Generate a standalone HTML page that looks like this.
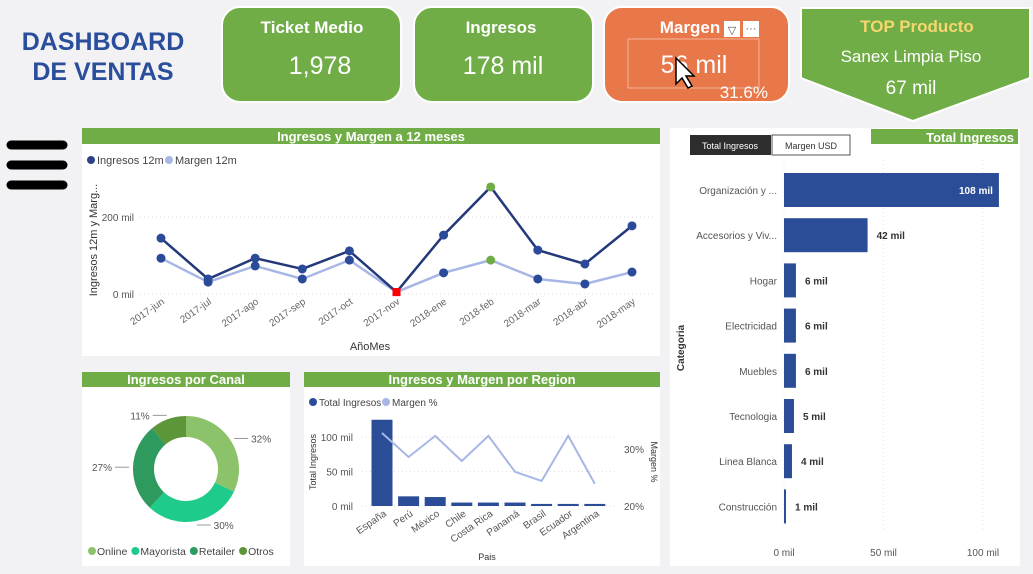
<!DOCTYPE html>
<html><head><meta charset="utf-8"><style>
body{margin:0;width:1033px;height:574px;overflow:hidden;background:#f2f2f4;font-family:"Liberation Sans",sans-serif}
svg{display:block}
text{font-family:"Liberation Sans",sans-serif}
</style></head><body>
<svg id="s" width="1033" height="574" viewBox="0 0 1033 574">
<rect width="1033" height="574" fill="#f2f2f4"/>
<g fill="#2a4e9b" font-weight="bold" font-size="25" text-anchor="middle">
<text x="103" y="50">DASHBOARD</text><text x="103" y="80">DE VENTAS</text></g>
<g stroke="#000" stroke-width="9" stroke-linecap="round">
<line x1="11" y1="145" x2="63" y2="145"/><line x1="11" y1="165" x2="63" y2="165"/><line x1="11" y1="185" x2="63" y2="185"/></g>
<g>
<rect x="222" y="7" width="179" height="95" rx="18" fill="#70ad47" stroke="#fff" stroke-width="2"/>
<text x="312" y="33" fill="#fff" font-size="17" font-weight="bold" text-anchor="middle">Ticket Medio</text>
<text x="320" y="74" fill="#fff" font-size="25" text-anchor="middle">1,978</text></g>
<g>
<rect x="414" y="7" width="179" height="95" rx="18" fill="#70ad47" stroke="#fff" stroke-width="2"/>
<text x="501" y="33" fill="#fff" font-size="17" font-weight="bold" text-anchor="middle">Ingresos</text>
<text x="503" y="74" fill="#fff" font-size="25" text-anchor="middle">178 mil</text></g>
<g>
<rect x="604" y="7" width="185" height="95" rx="18" fill="#e8774a" stroke="#fff" stroke-width="2"/>
<text x="690" y="33" fill="#fff" font-size="17" font-weight="bold" text-anchor="middle">Margen</text>
<rect x="724" y="21" width="16" height="16" fill="#fff"/>
<text x="732" y="34" font-size="11" text-anchor="middle" fill="#555">▽</text>
<rect x="743" y="21" width="16" height="16" fill="#fff"/>
<text x="751" y="32" font-size="11" text-anchor="middle" fill="#555">···</text>
<rect x="628" y="39" width="131" height="49" fill="none" stroke="#f4b39a" stroke-width="1"/>
<text x="694" y="73" fill="#fff" font-size="25" text-anchor="middle">56 mil</text>
<text x="768" y="98" fill="#fff" font-size="17" text-anchor="end">31.6%</text>
<path d="M676 58 L676 84 L682 78 L688 88 L692 86 L686 76 L694 76 Z" fill="#fff" stroke="#000" stroke-width="1.5"/></g>
<g>
<path d="M801 8 H1030 V78 L913 121 L801 78 Z" fill="#70ad47" stroke="#fff" stroke-width="2"/>
<text x="917" y="32" fill="#f5d76e" font-size="17" font-weight="bold" text-anchor="middle">TOP Producto</text>
<text x="911" y="62" fill="#fff" font-size="17" text-anchor="middle">Sanex Limpia Piso</text>
<text x="911" y="94" fill="#fff" font-size="19" text-anchor="middle">67 mil</text></g>

<g>
<rect x="82" y="128" width="578" height="228" fill="#fff"/>
<rect x="82" y="128" width="578" height="16" fill="#70ad47"/>
<text x="371" y="141" fill="#fff" font-size="13" font-weight="bold" text-anchor="middle">Ingresos y Margen a 12 meses</text>
<circle cx="91" cy="160" r="4" fill="#2b4286"/><text x="97" y="164" font-size="11" fill="#444">Ingresos 12m</text>
<circle cx="169" cy="160" r="4" fill="#a8b6e6"/><text x="175" y="164" font-size="11" fill="#444">Margen 12m</text>
<text transform="translate(97,240) rotate(-90)" font-size="11" fill="#333" text-anchor="middle">Ingresos 12m y Marg...</text>
<text x="370" y="350" font-size="11" fill="#333" text-anchor="middle">AñoMes</text>
<g id="lc"></g></g>

<g>
<rect x="82" y="372" width="208" height="194" fill="#fff"/>
<rect x="82" y="372" width="208" height="15" fill="#70ad47"/>
<text x="186" y="384" fill="#fff" font-size="13" font-weight="bold" text-anchor="middle">Ingresos por Canal</text>
<g id="dc"></g></g>

<g>
<rect x="304" y="372" width="356" height="194" fill="#fff"/>
<rect x="304" y="372" width="356" height="15" fill="#70ad47"/>
<text x="482" y="384" fill="#fff" font-size="13" font-weight="bold" text-anchor="middle">Ingresos y Margen por Region</text>
<circle cx="313" cy="402" r="4" fill="#2b4c96"/><text x="319" y="406" font-size="10" fill="#444">Total Ingresos</text>
<circle cx="386" cy="402" r="4" fill="#a8b6e6"/><text x="392" y="406" font-size="10" fill="#444">Margen %</text>
<text transform="translate(316,462) rotate(-90)" font-size="9" fill="#333" text-anchor="middle">Total Ingresos</text>
<text transform="translate(651,462) rotate(90)" font-size="9" fill="#333" text-anchor="middle">Margen %</text>
<text x="487" y="560" font-size="9" fill="#333" text-anchor="middle">Pais</text>
<g id="rc"></g></g>

<g>
<rect x="670" y="128" width="350" height="438" fill="#fff"/>
<rect x="871" y="129" width="147" height="15" fill="#70ad47"/>
<text x="1014" y="142" fill="#fff" font-size="13" font-weight="bold" text-anchor="end">Total Ingresos</text>
<rect x="690" y="135" width="81" height="20" fill="#2d2d2d"/>
<text x="730" y="149" fill="#fff" font-size="9" text-anchor="middle">Total Ingresos</text>
<rect x="772" y="135" width="78" height="20" fill="#fff" stroke="#555"/>
<text x="811" y="149" fill="#333" font-size="9" text-anchor="middle">Margen USD</text>
<text transform="translate(684,348) rotate(-90)" font-size="10" fill="#333" font-weight="bold" text-anchor="middle">Categoria</text>
<g id="cc"></g></g>
</svg>
<script>
const lcMonths=["2017-jun","2017-jul","2017-ago","2017-sep","2017-oct","2017-nov","2018-ene","2018-feb","2018-mar","2018-abr","2018-may"];
const lcIngresos=[145,39,93,65,112,5,153,278,114,78,177];
const lcMargen=[93,31,73,39,88,5,55,88,39,26,57];
const lcTicks=[0,200];
const dcLabels=["Online","Mayorista","Retailer","Otros"];
const dcValues=[32,30,27,11];
const rcCountries=["España","Perú","México","Chile","Costa Rica","Panamá","Brasil","Ecuador","Argentina"];
const rcIngresos=[125,14,13,5,5,5,3,3,3];
const rcMargen=[32.8,28.6,32.3,27.9,32.3,26,24.4,32.3,23.9];
const rcLeftTicks=[0,50,100];
const rcRightTicks=[20,30];
const ccCats=["Organización y ...","Accesorios y Viv...","Hogar","Electricidad","Muebles","Tecnologia","Linea Blanca","Construcción"];
const ccValues=[108,42,6,6,6,5,4,1];
const ccTicks=[0,50,100];

const NS="http://www.w3.org/2000/svg";
function mk(p,t,a,txt){const e=document.createElementNS(NS,t);for(const k in a)e.setAttribute(k,a[k]);if(txt!==undefined)e.textContent=txt;p.appendChild(e);return e;}

(function(){
const g=document.getElementById('lc');
const x=i=>161+i*(632-161)/(lcMonths.length-1);
const y=v=>294-v*0.385;
lcTicks.forEach(t=>{const gl=mk(g,'line',{x1:140,x2:655,y1:y(t),y2:y(t),stroke:'#ddd','stroke-dasharray':'1,3'});

mk(g,'text',{x:134,y:y(t)+4,'font-size':10,fill:'#555','text-anchor':'end'},t+' mil');});
lcMonths.forEach((m,i)=>{const t=mk(g,'text',{transform:`translate(${x(i)+4},${303}) rotate(-35)`,'font-size':10,fill:'#666','text-anchor':'end'},m);
});
const ii=lcIngresos.indexOf(Math.max(...lcIngresos));
const minI=lcIngresos.indexOf(Math.min(...lcIngresos));
[[lcMargen,'#a8b6e6','#2b4a9a','margen'],[lcIngresos,'#24397a','#2b4a9a','ingresos']].forEach(([d,c,pc,n])=>{
const l=mk(g,'polyline',{points:d.map((v,i)=>x(i)+','+y(v)).join(' '),fill:'none',stroke:c,'stroke-width':2.5});

d.forEach((v,i)=>{let f=pc;
if(i===ii)f='#70ad47';
if(i===minI){const r=mk(g,'rect',{x:x(i)-4,y:y(v)-4,width:8,height:8,fill:'#f00'});return;}
const p=mk(g,'circle',{cx:x(i),cy:y(v),r:4.5,fill:f});
});});
})();

(function(){
const g=document.getElementById('dc');
const cx=186,cy=469,R=53,r=32,cols=['#8bc26a','#1fcb8a','#2e9a5e','#5d9638'];
const tot=dcValues.reduce((a,b)=>a+b,0);let a0=0;
dcValues.forEach((v,i)=>{const a1=a0+v/tot*2*Math.PI;
const P=(rad,a)=>[cx+rad*Math.sin(a),cy-rad*Math.cos(a)];
const [x1,y1]=P(R,a0),[x2,y2]=P(R,a1),[x3,y3]=P(r,a1),[x4,y4]=P(r,a0);const lg=(a1-a0)>Math.PI?1:0;
const s=mk(g,'path',{d:`M${x1},${y1}A${R},${R} 0 ${lg} 1 ${x2},${y2}L${x3},${y3}A${r},${r} 0 ${lg} 0 ${x4},${y4}Z`,fill:cols[i]});

const am=(a0+a1)/2;const [lx,ly]=P(R+4,am);const right=Math.sin(am)>0;const ex=lx+(right?14:-14);
mk(g,'polyline',{points:`${lx},${ly} ${ex},${ly}`,fill:'none',stroke:'#999'});
mk(g,'text',{x:ex+(right?3:-3),y:ly+4,'font-size':10,fill:'#555','text-anchor':right?'start':'end'},Math.round(v/tot*100)+'%');
a0=a1;});
let lx=88;dcLabels.forEach((l,i)=>{mk(g,'circle',{cx:lx+4,cy:551,r:4,fill:cols[i]});
const t=mk(g,'text',{x:lx+9,y:555,'font-size':10.5,fill:'#444'},l);

let w=l.length*5.6;try{w=t.getComputedTextLength();}catch(e){}
lx+=9+w+4;});
})();

(function(){
const g=document.getElementById('rc');
const x=i=>382+i*26.6;const y=v=>506-v*0.69;const y2=p=>506-(p-20)*5.7;
rcLeftTicks.forEach(t=>{mk(g,'line',{x1:362,x2:615,y1:y(t),y2:y(t),stroke:'#ddd','stroke-dasharray':'1,3'});
mk(g,'text',{x:353,y:y(t)+4,'font-size':10,fill:'#555','text-anchor':'end'},t+' mil');});
rcRightTicks.forEach(t=>mk(g,'text',{x:624,y:y2(t)+4,'font-size':10,fill:'#555'},t+'%'));
rcIngresos.forEach((v,i)=>{const b=mk(g,'rect',{x:x(i)-10.5,y:y(v),width:21,height:v*0.69,fill:'#2b4c96'});

mk(g,'text',{transform:`translate(${x(i)+5},${515}) rotate(-35)`,'font-size':10,fill:'#555','text-anchor':'end'},rcCountries[i]);});
const l=mk(g,'polyline',{points:rcMargen.map((v,i)=>x(i)+','+y2(v)).join(' '),fill:'none',stroke:'#a8b6e6','stroke-width':2});

})();

(function(){
const g=document.getElementById('cc');
const x=v=>784+v*1.99;const y=i=>190+i*45.2;
ccTicks.forEach(t=>{mk(g,'line',{x1:x(t),x2:x(t),y1:160,y2:530,stroke:'#e4e4e4','stroke-dasharray':'1,3'});
mk(g,'text',{x:x(t),y:556,'font-size':10,fill:'#555','text-anchor':'middle'},t+' mil');});
ccValues.forEach((v,i)=>{const b=mk(g,'rect',{x:784,y:y(i)-17,width:v*1.99,height:34,fill:'#2b4c96'});

mk(g,'text',{x:777,y:y(i)+4,'font-size':10,fill:'#555','text-anchor':'end'},ccCats[i]);
const inside=v>80;
mk(g,'text',{x:inside?x(v)-6:x(v)+9,y:y(i)+4,'font-size':10,'font-weight':'bold',fill:inside?'#fff':'#333','text-anchor':inside?'end':'start'},v+' mil');});
})();
</script>
</body></html>
